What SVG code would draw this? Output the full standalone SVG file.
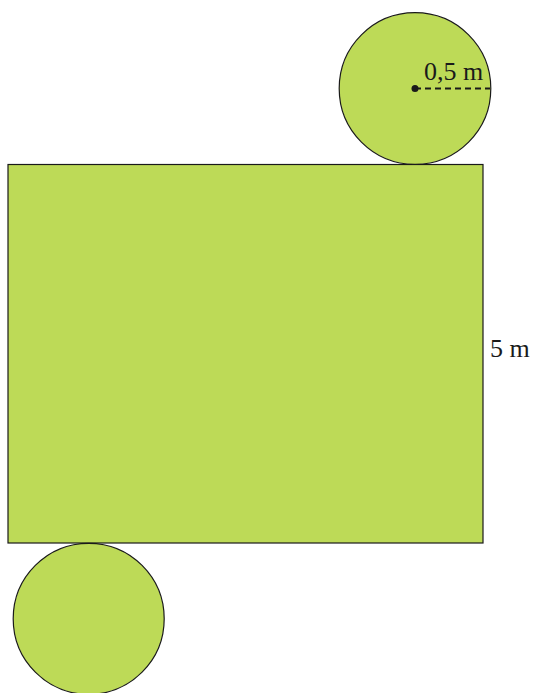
<svg xmlns="http://www.w3.org/2000/svg" width="533" height="693" viewBox="0 0 533 693">
<style>
.shape{fill:#bdda57;stroke:#1a1a1a;stroke-width:1.2}
.lbl{font-family:"Liberation Serif","Times New Roman",serif;font-size:26px;fill:#1a1a1a}
</style>
<rect width="533" height="693" fill="#ffffff"/>
<g id="rectangle">
<rect class="shape" x="8" y="164.5" width="475" height="378.5"/>
<text class="lbl" x="490" y="357">5 m</text>
</g>
<g id="top-circle">
<circle class="shape" cx="415" cy="88.5" r="75.8"/>
<circle cx="415" cy="88.5" r="3.5" fill="#1a1a1a"/>
<line x1="415" y1="88.5" x2="490" y2="88.5" stroke="#1a1a1a" stroke-width="2" stroke-dasharray="6,4"/>
<text class="lbl" x="424" y="80">0,5 m</text>
</g>
<g id="bottom-circle">
<circle class="shape" cx="88.7" cy="618.8" r="75.5"/>
</g>
</svg>
